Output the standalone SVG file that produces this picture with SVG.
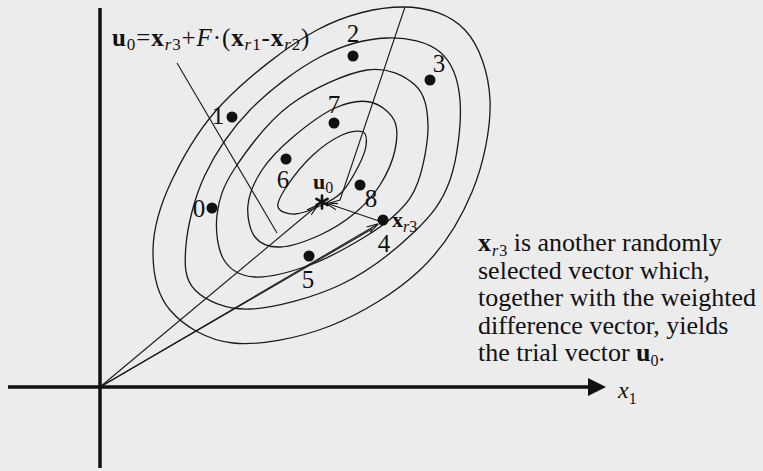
<svg xmlns="http://www.w3.org/2000/svg" width="763" height="471" viewBox="0 0 763 471">
<style>
.bg{fill:#ececec}
.ax{stroke:#111;stroke-width:3.5;fill:none}
.cv{stroke:#1a1a1a;stroke-width:1.3;fill:none}
.ln{stroke:#1a1a1a;stroke-width:1.1;fill:none}
.dot{fill:#111}
.star{stroke:#111;stroke-width:2.6;stroke-linecap:round}
.t{font-family:"Liberation Serif","Times New Roman",serif;fill:#111}
.d{font-size:25px}
.b{font-weight:bold}
.i{font-style:italic}
.s{font-size:16px}
.p{font-size:26px}
</style>
<defs>
<marker id="ah" viewBox="0 0 12 8" refX="11.5" refY="4" markerWidth="12" markerHeight="8" markerUnits="userSpaceOnUse" orient="auto">
<path d="M0,0.8 L12,4 L0,7.2" fill="none" stroke="#111" stroke-width="1.1"/>
</marker>
</defs>
<rect class="bg" x="0" y="0" width="763" height="471"/>

<g id="axes">
<line class="ax" x1="100" y1="8" x2="100" y2="468"/>
<line class="ax" x1="8" y1="387" x2="592" y2="387"/>
<polygon points="588,378 606,387 588,396" fill="#111"/>
<text class="t i" x="618" y="398" font-size="24">x<tspan class="s" font-style="normal" dy="6">1</tspan></text>
</g>

<g id="contours">
<path id="e5" class="cv" d="M403,7 C427.7,7 450.5,14.5 465,30 C479.5,45.5 488.8,73 490,100 C491.2,127 483.7,163.7 472,192 C460.3,220.3 443.7,247.7 420,270 C396.3,292.3 361.2,313.8 330,326 C298.8,338.2 259.7,345.7 233,343 C206.3,340.3 183.3,325.5 170,310 C156.7,294.5 152.7,271.7 153,250 C153.3,228.3 160.3,204.5 172,180 C183.7,155.5 198.8,128 223,103 C247.2,78 287,46 317,30 C347,14 378.3,7 403,7 Z"/>
<path id="e4" class="cv" d="M387,38 C407,37.2 427.8,41.7 440,52 C452.2,62.3 458.3,78.7 460,100 C461.7,121.3 457.8,157.8 450,180 C442.2,202.2 431.3,215.5 413,233 C394.7,250.5 367.2,272.3 340,285 C312.8,297.7 274.2,308.2 250,309 C225.8,309.8 205.7,300.7 195,290 C184.3,279.3 184.3,264.2 186,245 C187.7,225.8 194.3,197.5 205,175 C215.7,152.5 230.8,129.7 250,110 C269.2,90.3 297.2,69 320,57 C342.8,45 367,38.8 387,38 Z"/>
<path id="e3" class="cv" d="M367,70 C387.8,66.7 404.8,75.8 415,85 C425.2,94.2 427.5,108.8 428,125 C428.5,141.2 423.2,167.3 418,182 C412.8,196.7 406.2,203.7 397,213 C387.8,222.3 377.5,229.3 363,238 C348.5,246.7 328,258.5 310,265 C292,271.5 269.3,277.8 255,277 C240.7,276.2 230.3,270.3 224,260 C217.7,249.7 215.2,230.3 217,215 C218.8,199.7 222.8,186.3 235,168 C247.2,149.7 268,121.3 290,105 C312,88.7 346.2,73.3 367,70 Z"/>
<path id="e2" class="cv" d="M370,102 C379.8,104 389.8,112 394,120 C398.2,128 397.3,139.2 395,150 C392.7,160.8 386.7,174.5 380,185 C373.3,195.5 365,204.7 355,213 C345,221.3 332.5,229.3 320,235 C307.5,240.7 290.8,246.7 280,247 C269.2,247.3 260.3,244 255,237 C249.7,230 246.8,216.2 248,205 C249.2,193.8 254.5,181.3 262,170 C269.5,158.7 280.8,147.3 293,137 C305.2,126.7 322.2,113.8 335,108 C347.8,102.2 360.2,100 370,102 Z"/>
<path id="e1" class="cv" d="M363,132 C367,133.8 366.8,140.2 366,146 C365.2,151.8 362,159.3 358,167 C354,174.7 348,185.7 342,192 C336,198.3 329.8,201.3 322,205 C314.2,208.7 302.3,213.7 295,214 C287.7,214.3 279.3,211.7 278,207 C276.7,202.3 281.2,194.7 287,186 C292.8,177.3 303.8,163.5 313,155 C322.2,146.5 333.7,138.8 342,135 C350.3,131.2 359,130.2 363,132 Z"/>
</g>

<g id="connectors">
<line class="ln" x1="177" y1="63" x2="277" y2="233"/>
<polyline class="ln" points="405,7 340,200 330,203"/>
<line class="ln" x1="100" y1="387" x2="318" y2="205" marker-end="url(#ah)"/>
<line class="ln" x1="100" y1="387" x2="378" y2="224" marker-end="url(#ah)"/>
<line class="ln" x1="100" y1="387" x2="372" y2="229"/>
<line class="ln" x1="382" y1="222" x2="326" y2="203" marker-end="url(#ah)"/>
</g>

<g id="p0"><circle class="dot" cx="212" cy="208" r="5.5"/><text class="t d" x="199" y="217" text-anchor="middle">0</text></g>
<g id="p1"><circle class="dot" cx="232" cy="117" r="5.5"/><text class="t d" x="218" y="124" text-anchor="middle">1</text></g>
<g id="p2"><circle class="dot" cx="353" cy="56" r="5.5"/><text class="t d" x="353" y="42" text-anchor="middle">2</text></g>
<g id="p3"><circle class="dot" cx="430" cy="80" r="5.5"/><text class="t d" x="439" y="72" text-anchor="middle">3</text></g>
<g id="p4"><text class="t d" x="384" y="252" text-anchor="middle">4</text></g>
<g id="p5"><circle class="dot" cx="309" cy="256" r="5.5"/><text class="t d" x="308" y="288" text-anchor="middle">5</text></g>
<g id="p6"><circle class="dot" cx="286" cy="159" r="5.5"/><text class="t d" x="283" y="188" text-anchor="middle">6</text></g>
<g id="p7"><circle class="dot" cx="334" cy="123" r="5.5"/><text class="t d" x="334" y="113" text-anchor="middle">7</text></g>
<g id="p8"><circle class="dot" cx="360" cy="185" r="5.5"/><text class="t d" x="371" y="207" text-anchor="middle">8</text></g>
<g id="xr3"><circle class="dot" cx="383" cy="220" r="5.5"/><text class="t" x="392" y="227" font-size="22"><tspan class="b">x</tspan><tspan class="s i" dy="5">r</tspan><tspan class="s">3</tspan></text></g>
<g id="u0">
<g class="star"><line x1="322" y1="195.5" x2="322" y2="208.5"/><line x1="316.4" y1="198.8" x2="327.6" y2="205.2"/><line x1="316.4" y1="205.2" x2="327.6" y2="198.8"/></g>
<text class="t" x="313" y="189" font-size="22"><tspan class="b">u</tspan><tspan class="s" dy="4">0</tspan></text>
</g>

<g id="equation">
<text class="t" x="112" y="46" font-size="25" letter-spacing="0.9"><tspan class="b">u</tspan><tspan font-size="17" dy="4">0</tspan><tspan dy="-4">=</tspan><tspan class="b">x</tspan><tspan class="i" font-size="17" dy="4">r</tspan><tspan font-size="17">3</tspan><tspan dy="-4">+</tspan><tspan class="i">F</tspan><tspan>·(</tspan><tspan class="b">x</tspan><tspan class="i" font-size="17" dy="4">r</tspan><tspan font-size="17">1</tspan><tspan dy="-4">-</tspan><tspan class="b">x</tspan><tspan class="i" font-size="17" dy="4">r</tspan><tspan font-size="17">2</tspan><tspan dy="-4">)</tspan></text>
</g>

<g id="note">
<text class="t p" x="478" y="251"><tspan class="b">x</tspan><tspan class="s i" dx="1" dy="5">r</tspan><tspan class="s" dx="1">3</tspan><tspan dy="-5"> is another randomly</tspan></text>
<text class="t p" x="478" y="279">selected vector which,</text>
<text class="t p" x="478" y="306">together with the weighted</text>
<text class="t p" x="478" y="334">difference vector, yields</text>
<text class="t p" x="478" y="361">the trial vector <tspan class="b">u</tspan><tspan class="s" dy="5">0</tspan><tspan dy="-5">.</tspan></text>
</g>
</svg>
